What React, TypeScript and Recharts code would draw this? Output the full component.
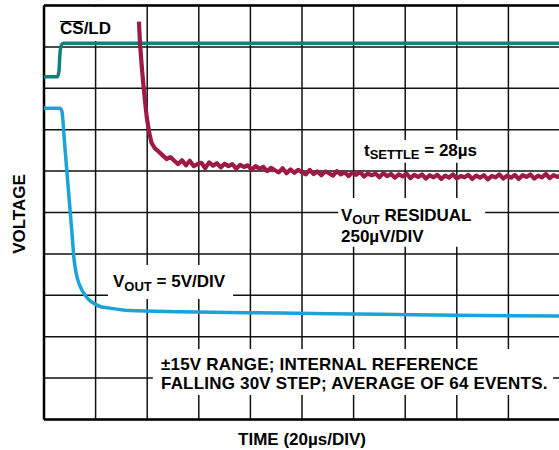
import React from 'react';
import { LineChart, Line, XAxis, YAxis, CartesianGrid, ReferenceArea, ReferenceLine } from 'recharts';

// time in µs (20µs/div), level in screen divisions (0 = bottom, 10 = top)
const timeTicks = [0, 20, 40, 60, 80, 100, 120, 140, 160, 180, 200];
const divTicks = [0, 1, 2, 3, 4, 5, 6, 7, 8, 9, 10];

const csLdTime = [0, 5.2, 5.8, 6.2, 6.8, 7.6, 200];
const csLdLevel = [8.28, 8.28, 8.42, 8.85, 9.05, 9.09, 9.09];

const voutTime = [0, 6.2, 7.0, 7.75, 8.5, 9.3, 10.1, 10.9, 11.6, 12.4, 13.2, 13.95, 15.1, 16.3, 17.8, 19.8, 21.7, 25.6, 33.3, 52.7, 91.5, 130.2, 169, 200];
const voutLevel = [7.52, 7.52, 7.43, 6.87, 6.27, 5.66, 5.06, 4.46, 3.9, 3.56, 3.35, 3.22, 3.08, 2.97, 2.87, 2.79, 2.73, 2.69, 2.63, 2.6, 2.57, 2.54, 2.51, 2.5];

const residualEdgeTime = [36.8, 37.2, 37.9, 38.5, 39.1, 39.8, 40.8, 41.7];
const residualEdgeLevel = [9.61, 9.1, 8.52, 8.1, 7.72, 7.31, 6.92, 6.68];

// settled part of the residual, sampled every 1.5µs from 43µs
const residualSettleStart = 43;
const residualSettleStep = 1.5;
const residualSettleLevel = [
  6.55, 6.47, 6.38, 6.29, 6.34, 6.25, 6.17, 6.26, 6.14, 6.25,
  6.12, 6.17, 6.2, 6.07, 6.21, 6.13, 6.19, 6.09, 6.18, 6.12,
  6.17, 6.06, 6.15, 6.1, 6.14, 6.03, 6.12, 6.06, 6.1, 6.0,
  6.08, 6.02, 5.97, 6.07, 5.95, 6.04, 5.96, 6.03, 5.97, 5.92,
  6.03, 5.93, 5.99, 5.9, 5.99, 5.95, 5.89, 6.0, 5.92, 5.97,
  5.88, 5.96, 5.91, 5.98, 5.87, 5.94, 5.9, 5.94, 5.85, 5.95,
  5.88, 5.93, 5.84, 5.92, 5.87, 5.94, 5.83, 5.91, 5.86, 5.92,
  5.82, 5.9, 5.85, 5.91, 5.81, 5.89, 5.84, 5.92, 5.82, 5.88,
  5.85, 5.91, 5.81, 5.89, 5.84, 5.9, 5.8, 5.88, 5.85, 5.92,
  5.82, 5.89, 5.84, 5.91, 5.81, 5.9, 5.86, 5.92, 5.82, 5.89,
  5.85, 5.93, 5.83, 5.9, 5.86, 5.91,
];

const csLdData = csLdTime.map((t, i) => ({ t, v: csLdLevel[i] }));
const voutData = voutTime.map((t, i) => ({ t, v: voutLevel[i] }));
const residualData = [
  ...residualEdgeTime.map((t, i) => ({ t, v: residualEdgeLevel[i] })),
  ...residualSettleLevel.map((v, i) => ({ t: residualSettleStart + i * residualSettleStep, v })),
];

const TEAL = '#12807a';
const BLUE = '#1aa3d9';
const CRIMSON = '#9c1a45';

const Note = ({ left, top, lh = 17, spacing = 0, children }: any) => (
  <div
    style={{
      position: 'absolute',
      left,
      top,
      fontSize: 17,
      lineHeight: `${lh}px`,
      letterSpacing: spacing,
      whiteSpace: 'nowrap',
    }}
  >
    {children}
  </div>
);

const Sub = ({ children, drop = 4 }: any) => (
  <span style={{ fontSize: 13, position: 'relative', top: drop }}>{children}</span>
);

export default function App() {
  return (
    <div
      style={{
        position: 'absolute',
        left: 0,
        top: 0,
        width: 559,
        height: 450,
        overflow: 'hidden',
        background: '#fff',
        color: '#000',
        fontFamily: '"Liberation Sans", Arial, sans-serif',
        fontWeight: 700,
      }}
    >
      <LineChart width={575} height={450} margin={{ top: 5.5, right: 15, bottom: 30.5, left: 44 }}>
        <XAxis type="number" dataKey="t" domain={[0, 200]} ticks={timeTicks} hide allowDataOverflow />
        <YAxis type="number" domain={[0, 10]} ticks={divTicks} hide allowDataOverflow />
        <CartesianGrid stroke="#111" strokeWidth={1.5} />
        {/* white label boxes that break the graticule */}
        <ReferenceArea x1={3} x2={36.5} y1={9.14} y2={9.97} fill="#fff" fillOpacity={1} stroke="none" ifOverflow="visible" />
        <ReferenceArea x1={121.7} x2={172.9} y1={6.2} y2={6.75} fill="#fff" fillOpacity={1} stroke="none" ifOverflow="visible" />
        <ReferenceArea x1={114} x2={171} y1={4.17} y2={5.35} fill="#fff" fillOpacity={1} stroke="none" ifOverflow="visible" />
        <ReferenceArea x1={24.8} x2={73.3} y1={2.91} y2={3.73} fill="#fff" fillOpacity={1} stroke="none" ifOverflow="visible" />
        <ReferenceArea x1={42.2} x2={197.3} y1={0.59} y2={1.7} fill="#fff" fillOpacity={1} stroke="none" ifOverflow="visible" />
        <ReferenceLine x={0} stroke="#000" strokeWidth={2.5} />
        <ReferenceLine y={0} stroke="#000" strokeWidth={2.5} />
        <ReferenceLine y={10} stroke="#000" strokeWidth={2.5} />
        <Line data={csLdData} dataKey="v" type="monotone" stroke={TEAL} strokeWidth={3.5} dot={false} isAnimationActive={false} />
        <Line data={voutData} dataKey="v" type="monotone" stroke={BLUE} strokeWidth={3.5} dot={false} isAnimationActive={false} />
        <Line data={residualData} dataKey="v" type="linear" stroke={CRIMSON} strokeWidth={4.2} strokeLinejoin="round" dot={false} isAnimationActive={false} />
      </LineChart>

      <Note left={60} top={19.6}>
        <span style={{ position: 'relative' }}>
          CS
          <span style={{ position: 'absolute', left: 0, right: 0, top: 2, height: 1.6, background: '#000' }} />
        </span>
        /LD
      </Note>
      <Note left={364} top={142.3}>
        t<Sub drop={3}>SETTLE</Sub> = 28µs
      </Note>
      <Note left={341} top={207.3}>
        V<Sub drop={2.5}>OUT</Sub> RESIDUAL
      </Note>
      <Note left={341} top={228}>
        250µV/DIV
      </Note>
      <Note left={113} top={273}>
        V<Sub>OUT</Sub> = 5V/DIV
      </Note>
      <Note left={161} top={355.6} spacing={0.2}>
        ±15V RANGE; INTERNAL REFERENCE
      </Note>
      <Note left={161} top={374.8} spacing={0.2}>
        FALLING 30V STEP; AVERAGE OF 64 EVENTS.
      </Note>
      <div
        style={{
          position: 'absolute',
          left: 19,
          top: 214,
          transform: 'translate(-50%, -50%) rotate(-90deg)',
          fontSize: 17,
          lineHeight: '17px',
          whiteSpace: 'nowrap',
        }}
      >
        VOLTAGE
      </div>
      <div
        style={{
          position: 'absolute',
          left: 302,
          top: 430.6,
          transform: 'translateX(-50%)',
          fontSize: 17,
          lineHeight: '17px',
          whiteSpace: 'nowrap',
        }}
      >
        TIME (20µs/DIV)
      </div>
    </div>
  );
}
